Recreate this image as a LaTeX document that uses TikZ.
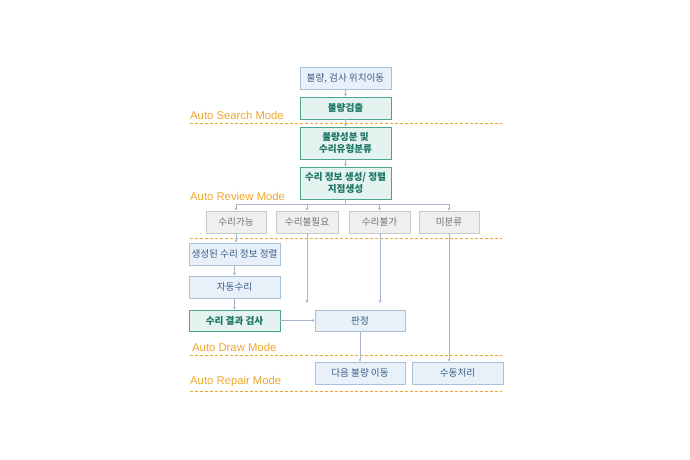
\documentclass[tikz,border=0pt]{standalone}
\usepackage{fontspec}
\setmainfont{Noto Sans CJK KR}
\newfontfamily\latinsf{Liberation Sans}
\usetikzlibrary{arrows.meta}
\definecolor{bfill}{HTML}{E8F1F9}
\definecolor{bdraw}{HTML}{A9C0D6}
\definecolor{btext}{HTML}{3A5D85}
\definecolor{tfill}{HTML}{E4F3F0}
\definecolor{tdraw}{HTML}{4AA595}
\definecolor{ttext}{HTML}{1B7564}
\definecolor{gfill}{HTML}{EFEFEF}
\definecolor{gdraw}{HTML}{C9C9C9}
\definecolor{gtext}{HTML}{747474}
\definecolor{org}{HTML}{F0A52C}
\definecolor{conn}{HTML}{A6B7CB}
\tikzset{
  base/.style={rectangle, inner sep=1pt, align=center, font=\fontsize{9.6}{11}\selectfont, line width=0.7pt},
  bluebox/.style={base, fill=bfill, draw=bdraw, text=btext},
  tealbox/.style={base, fill=tfill, draw=tdraw, text=ttext, font=\fontsize{9.6}{11.5}\selectfont\bfseries},
  graybox/.style={base, fill=gfill, draw=gdraw, text=gtext, minimum height=22pt},
  modelbl/.style={anchor=west, text=org, font=\latinsf\fontsize{11.3}{13}\selectfont, inner sep=0pt},
  sep/.style={draw=org, dashed, dash pattern=on 3pt off 2pt, line width=0.6pt},
  conn/.style={draw=conn, line width=0.6pt, -{Stealth[length=3pt,width=3pt]}},
  connl/.style={draw=conn, line width=0.6pt}
}
\begin{document}
\begin{tikzpicture}[x=1pt,y=-1pt]
\useasboundingbox (0,0) rectangle (690,460);
% separators
\draw[sep] (190,123) -- (502,123);
\draw[sep] (190,238) -- (502,238);
\draw[sep] (190,355) -- (502,355);
\draw[sep] (190,391) -- (502,391);
% mode labels
\node[modelbl] (lsearch) at (190,115) {Auto Search Mode};
\node[modelbl] (lreview) at (190,196) {Auto Review Mode};
\node[modelbl] (ldraw) at (192,347) {Auto Draw Mode};
\node[modelbl] (lrepair) at (190,382) {Auto Repair Mode};
% top chain
\node[bluebox, minimum width=91pt, minimum height=22pt] (b1) at (345.5,78) {불량, 검사 위치이동};
\node[tealbox, minimum width=91pt, minimum height=22pt] (b2) at (345.5,108) {불량검출};
\node[tealbox, minimum width=91pt, minimum height=32pt] (b3) at (345.5,143) {불량성분 및\\수리유형분류};
\node[tealbox, minimum width=91pt, minimum height=32pt] (b4) at (345.5,183) {수리 정보 생성/ 정렬\\지점생성};
% gray classification
\node[graybox, minimum width=60pt] (g1) at (236,222) {수리가능};
\node[graybox, minimum width=62pt] (g2) at (307,222) {수리불필요};
\node[graybox, minimum width=61pt] (g3) at (379.5,222) {수리불가};
\node[graybox, minimum width=60pt] (g4) at (449,222) {미분류};
% repair chain
\node[bluebox, minimum width=91pt, minimum height=22pt] (r1) at (234.5,254) {생성된 수리 정보 정렬};
\node[bluebox, minimum width=91pt, minimum height=22pt] (r2) at (234.5,287) {자동수리};
\node[tealbox, minimum width=91pt, minimum height=21pt] (r3) at (234.5,320.5) {수리 결과 검사};
\node[bluebox, minimum width=90pt, minimum height=21pt] (jd) at (360,320.5) {판정};
\node[bluebox, minimum width=90pt, minimum height=22pt] (nx) at (360,373) {다음 불량 이동};
\node[bluebox, minimum width=91pt, minimum height=22pt] (mn) at (457.5,373) {수동처리};
% connectors
\draw[conn] (b1) -- (b2);
\draw[conn] (b2) -- (b3);
\draw[conn] (b3) -- (b4);
\coordinate (split) at (345.5,204);
\coordinate (sl) at (236,204);
\coordinate (sr) at (449,204);
\draw[connl] (b4.south) -- (split);
\draw[connl] (sl) -- (sr);
\draw[conn] (sl) -- (g1.north);
\draw[conn] (g2.north |- split) -- (g2.north);
\draw[conn] (g3.north |- split) -- (g3.north);
\draw[conn] (sr) -- (g4.north);
\draw[conn] (g1.south) -- (g1.south |- r1.north);
\draw[conn] (r1) -- (r2);
\draw[conn] (r2) -- (r3);
\draw[conn] (r3) -- (jd);
\coordinate (e2) at (307,303);
\coordinate (e3) at (380,303);
\draw[conn] (g2.south) -- (e2);
\draw[conn] (g3.south -| e3) -- (e3);
\draw[conn] (g4.south) -- (g4.south |- mn.north);
\draw[conn] (jd) -- (nx);
\end{tikzpicture}
\end{document}
